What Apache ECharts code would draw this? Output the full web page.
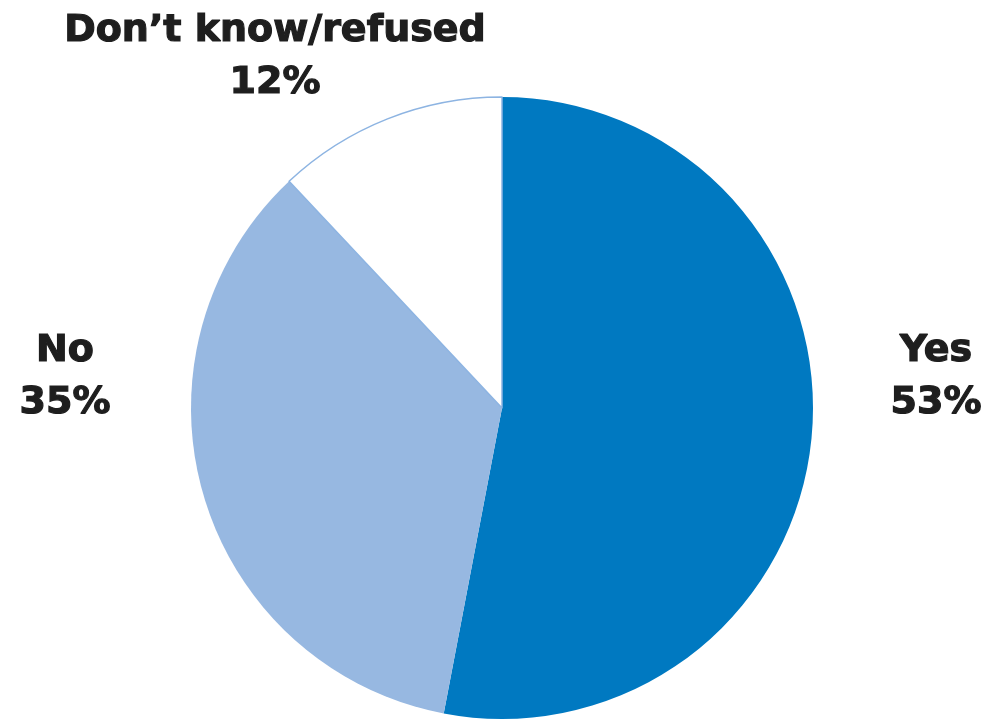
<!DOCTYPE html>
<html>
<head>
<meta charset="utf-8">
<script src="https://cdn.jsdelivr.net/npm/echarts@6/dist/echarts.min.js"></script>
<style>
html,body{margin:0;padding:0;background:#fff;}
#chart{width:988px;height:721px;}
</style>
</head>
<body>
<div id="chart"></div>
<script>
const categories = ["Yes", "No", "Don\u2019t know/refused"];
const values = [53, 35, 12];
const colors = ["#0079C1", "#97B8E1", "#FFFFFF"];
const labelPos = {
  "Yes": [936, 377],
  "No": [65, 377],
  "Don\u2019t know/refused": [275, 57]
};

const chart = echarts.init(document.getElementById('chart'), null, {renderer: 'canvas'});
chart.setOption({
  animation: false,
  backgroundColor: '#fff',
  series: [{
    type: 'pie',
    center: [502, 408],
    radius: [0, 311],
    startAngle: 90,
    clockwise: true,
    data: categories.map((c, i) => ({
      name: c,
      value: values[i],
      itemStyle: {
        color: colors[i],
        borderColor: i === 2 ? '#8DB4E2' : colors[i],
        borderWidth: i === 2 ? 1.5 : 0
      }
    })),
    label: {
      show: true,
      position: 'outside',
      formatter: p => p.name + '\n' + p.value + '%',
      fontFamily: 'DejaVu Sans',
      fontWeight: 'bold',
      fontSize: 38,
      lineHeight: 52,
      color: '#1e1e1e',
      textBorderColor: '#1e1e1e',
      textBorderWidth: 1.2,
      align: 'center',
      overflow: 'none',
      width: 600
    },
    labelLine: { show: false },
    labelLayout: function (params) {
      const name = categories[params.dataIndex];
      const pos = labelPos[name];
      return { x: pos[0], y: pos[1], align: 'center', verticalAlign: 'middle' };
    }
  }]
});
</script>
</body>
</html>
